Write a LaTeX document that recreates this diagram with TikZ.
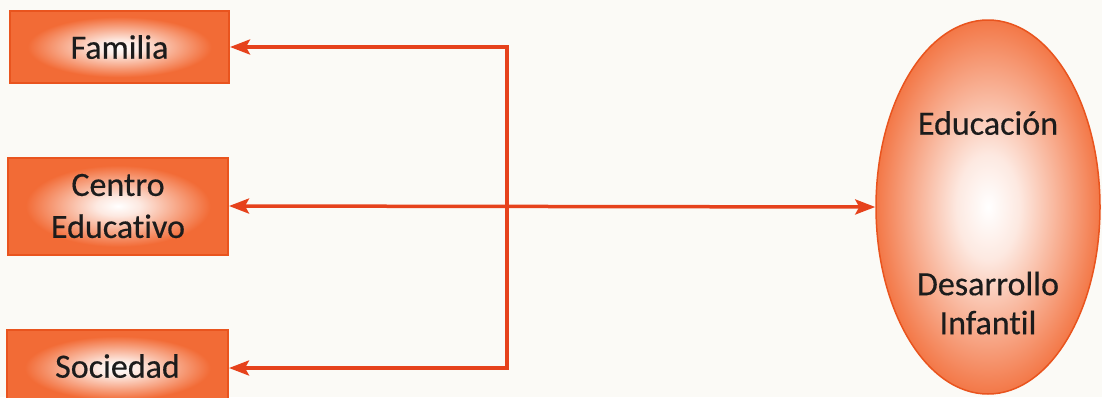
\documentclass[tikz,border=0pt]{standalone}
\usepackage{fontspec}
\setmainfont{Carlito}[Ligatures=NoCommon, FakeBold=0.4]
\usetikzlibrary{shapes.geometric,arrows.meta}
\definecolor{boxfill}{HTML}{F26B36}
\definecolor{boxline}{HTML}{E9541E}
\definecolor{arrowcol}{HTML}{E6421C}
\definecolor{bgcol}{HTML}{FBFAF6}
\definecolor{txt}{HTML}{1C1C1C}
\pgfdeclareradialshading{boxglow}{\pgfpoint{0bp}{0bp}}{color(0bp)=(white); color(5bp)=(white!85!boxfill); color(21bp)=(boxfill); color(50bp)=(boxfill)}
\pgfdeclareradialshading{ellglow}{\pgfpoint{0bp}{0bp}}{color(0bp)=(white); color(7bp)=(white!85!boxfill); color(27bp)=(boxfill); color(50bp)=(boxfill)}
\begin{document}
\begin{tikzpicture}[x=1pt,y=-1pt,
  box/.style={draw=boxline, line width=2pt, shading=boxglow, rectangle, inner sep=0pt,
    font=\fontsize{34}{42}\selectfont, text=txt, align=center},
  ell/.style={draw=boxline, line width=1.5pt, shading=ellglow, ellipse, inner sep=0pt,
    minimum width=224pt, minimum height=374pt},
  lbl/.style={font=\fontsize{34}{39}\selectfont, text=txt, align=center, inner sep=0pt},
  conn/.style={draw=arrowcol, line width=3.5pt},
  tip/.style={-{Stealth[length=20pt,width=15pt,inset=4pt]}}
]
\fill[bgcol] (0,0) rectangle (1102,397);
\useasboundingbox (0,0) rectangle (1102,397);

\node[box, minimum width=219pt, minimum height=72pt] (fam) at (119.5,47) {Familia};
\node[box, minimum width=220pt, minimum height=97pt] (cen) at (118,206) {Centro\\Educativo};
\node[box, minimum width=221pt, minimum height=76pt] (soc) at (117.5,368) {};
\node[lbl] (soct) at (117.5,366) {Sociedad};

\node[ell] (ell) at (988,207) {};
\node[lbl] (edu) at (988,123) {Educación};
\node[lbl] (des) at (988,303) {Desarrollo\\Infantil};

\coordinate (top) at (507,47);
\coordinate (bot) at (507,368);

\draw[conn, tip] (top) -- (fam.east);
\draw[conn, tip] (bot) -- (soc.east);
\draw[conn, line cap=rect] (top) -- (bot);
\draw[conn, {Stealth[length=20pt,width=15pt,inset=4pt]}-{Stealth[length=20pt,width=15pt,inset=4pt]}] (cen.east) -- (ell.west);
\end{tikzpicture}
\end{document}
